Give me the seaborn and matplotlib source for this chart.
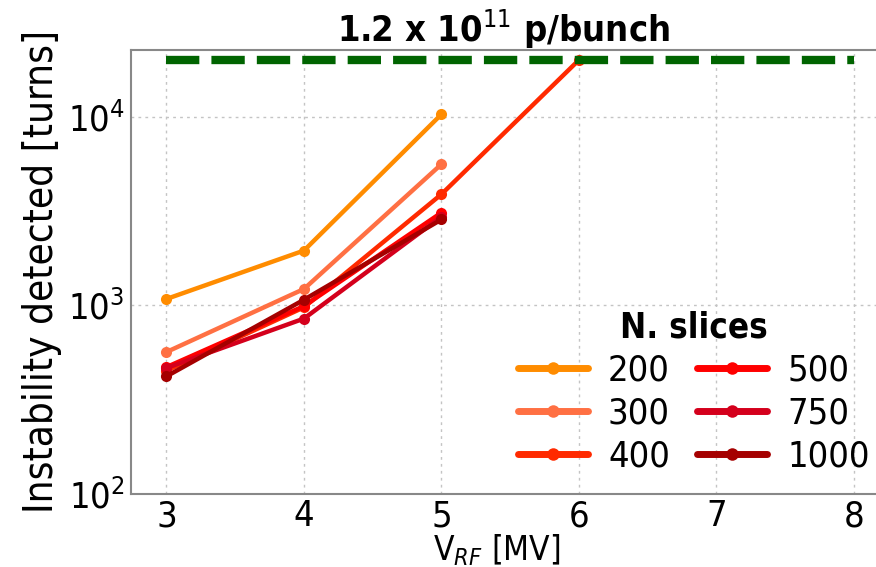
import matplotlib
matplotlib.use("Agg")
import matplotlib.pyplot as plt
from matplotlib import font_manager as fm
from matplotlib.lines import Line2D
import seaborn as sns
import pandas as pd

# ---- data ----
v_rf = [3, 4, 5, 6]
slices = ["200", "300", "400", "500", "750", "1000"]
turns_200 = [1080, 1950, 10300]
turns_300 = [565, 1220, 5600]
turns_400 = [450, 975, 3880, 20000]
turns_500 = [470, 990, 3100]
turns_750 = [465, 850, 2950]
turns_1000 = [420, 1070, 2850]
limit_x = [3, 8]
limit_turns = [20000, 20000]
colors = ["#ff8c00", "#ff7043", "#ff2a00", "#ff0000", "#d4001c", "#a50000"]

series = [turns_200, turns_300, turns_400, turns_500, turns_750, turns_1000]
rows = []
for s, vals in zip(slices, series):
    for x, y in zip(v_rf, vals):
        rows.append({"V": x, "turns": y, "N. slices": s})
df = pd.DataFrame(rows)

sns.set_style("white")

family = "DejaVu Sans"
stretch = "normal"
try:
    f = fm.findfont(fm.FontProperties(family="DejaVu Sans", stretch="condensed"), fallback_to_default=False)
    if "Condensed" in f:
        stretch = "condensed"
except Exception:
    pass
plt.rcParams["font.family"] = [family]
plt.rcParams["font.stretch"] = stretch
plt.rcParams["text.color"] = "black"
plt.rcParams["axes.labelcolor"] = "black"
plt.rcParams["xtick.labelcolor"] = "black"
plt.rcParams["ytick.labelcolor"] = "black"

fig = plt.figure(figsize=(8.76, 5.67), dpi=100)
ax = fig.add_axes([0.150, 0.129, 0.850, 0.783])

sns.lineplot(data=df, x="V", y="turns", hue="N. slices", hue_order=slices,
             palette=dict(zip(slices, colors)), marker="o", markersize=8,
             markeredgewidth=0, linewidth=3.2, ax=ax, legend=False, zorder=3)

ax.plot(limit_x, limit_turns, color="#006400", linewidth=6, dashes=(4.0, 1.45), zorder=4)

ax.set_yscale("log")
ax.set_ylim(100, 22600)
ax.set_xlim(2.745, 8.16)
ax.set_xticks([3, 4, 5, 6, 7, 8])
ax.minorticks_off()
ax.yaxis.set_minor_locator(matplotlib.ticker.NullLocator())

ax.grid(True, which="major", linestyle=(0, (2, 3)), color="#c4c4c4", linewidth=1)
for sp in ["left", "bottom", "top"]:
    ax.spines[sp].set_color("#888888")
    ax.spines[sp].set_linewidth(1.5)
ax.spines["right"].set_visible(False)

ax.tick_params(axis="both", labelsize=26, length=3, color="#888888", labelcolor="black", pad=2)
ax.tick_params(axis="x", pad=1)
ax.set_xlabel(r"V$_{RF}$ [MV]", fontsize=24, labelpad=-1, color="black")
ax.xaxis.label.set_x(0.49)
ax.set_ylabel("Instability detected [turns]", fontsize=29, labelpad=4, color="black")
ax.set_title(r"1.2 x 10$^{11}$ p/bunch", fontsize=26, fontweight="bold", pad=6, color="black")

handles = [Line2D([], [], color=c, linewidth=5, marker="o", markersize=9, markeredgewidth=0)
           for c in colors]
leg = ax.legend(handles, slices, ncol=2, loc="lower right", frameon=False,
                fontsize=26, title="N. slices", title_fontproperties={"weight": "bold", "size": 25},
                handlelength=1.95, handletextpad=0.55, columnspacing=0.75, labelspacing=0.25,
                borderaxespad=0.1, bbox_to_anchor=(1.016, 0.005))
for t in leg.get_texts():
    t.set_color("black")
leg.get_title().set_color("black")

fig.savefig("out.png", dpi=100)
